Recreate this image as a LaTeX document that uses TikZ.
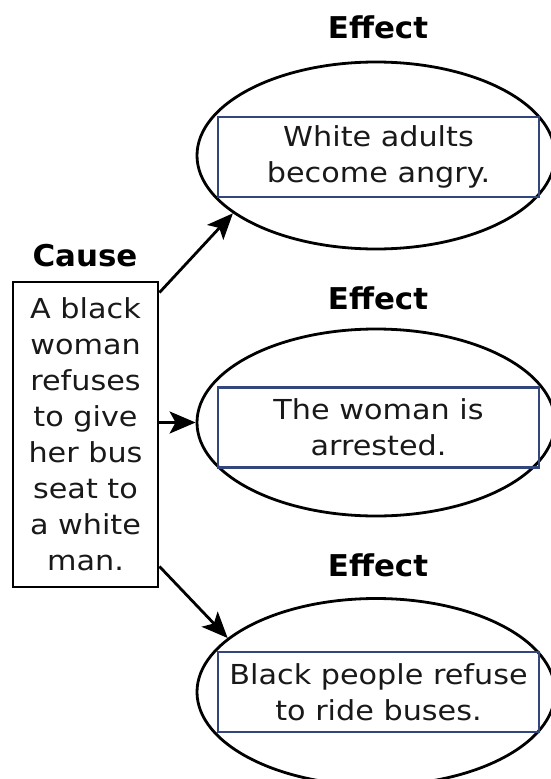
\documentclass[tikz,border=0pt]{standalone}
\usepackage{fontspec}
\setmainfont{DejaVu Sans}[FakeStretch=1.1]
\newfontfamily\headfont{DejaVu Sans}[FakeStretch=1.03]
\usetikzlibrary{shapes.geometric,arrows.meta}
\definecolor{boxblue}{RGB}{50,70,125}
\definecolor{ink}{RGB}{25,25,25}
\begin{document}
\begin{tikzpicture}[x=1pt,y=-1pt,
  txt/.style={font=\fontsize{27.5}{36}\selectfont, align=center, text=ink},
  ell/.style={draw, line width=2.8pt, ellipse, minimum width=358pt, minimum height=187pt, inner sep=0pt},
  inbox/.style={draw=boxblue, line width=2.6pt, minimum width=321pt, minimum height=80pt, inner sep=0pt, txt},
  head/.style={font=\headfont\bfseries\fontsize{30}{34}\selectfont},
  arr/.style={line width=2.8pt, -{Stealth[length=26pt,width=22pt,inset=6pt]}}]
\useasboundingbox (0,0) rectangle (551,779);
\node[head] (h1) at (378,27) {Effect};
\node[head] (h2) at (378,298) {Effect};
\node[head] (h3) at (378,565) {Effect};
\node[head] (hc) at (85,256) {Cause};
\node[ell] (e1) at (376,155.5) {};
\node[ell] (e2) at (376,422.5) {};
\node[ell] (e3) at (376,692) {};
\node[inbox] (r1) at (378.5,157) {White adults\\become angry.};
\node[inbox] (r2) at (378.5,427.5) {The woman is\\arrested.};
\node[inbox] (r3) at (378.5,692) {Black people refuse\\to ride buses.};
\node[draw, line width=2.8pt, minimum width=145pt, minimum height=305pt, inner sep=0pt, txt] (c) at (85.5,434.5)
  {A black\\woman\\refuses\\to give\\her bus\\seat to\\a white\\man.};
\draw[arr] ([yshift=-12pt]c.north east) -- (e1.202);
\draw[arr] (c.east |- e2.west) -- (e2.west);
\draw[arr] ([yshift=22pt]c.south east) -- (e3.160);
\end{tikzpicture}
\end{document}
